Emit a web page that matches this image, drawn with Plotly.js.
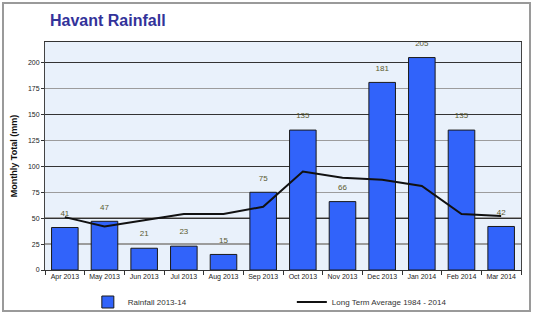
<!DOCTYPE html>
<html><head><meta charset="utf-8">
<script src="https://cdn.plot.ly/plotly-3.0.1.min.js"></script>
<style>
html,body{margin:0;padding:0;background:#fff;}
#chart{width:535px;height:315px;}
#frame{position:absolute;left:2px;top:2px;width:525px;height:306px;border:2px solid #9a9a9a;pointer-events:none;}
</style></head>
<body>
<div id="chart"></div>
<div id="frame"></div>
<script>
const months = ["Apr 2013","May 2013","Jun 2013","Jul 2013","Aug 2013","Sep 2013","Oct 2013","Nov 2013","Dec 2013","Jan 2014","Feb 2014","Mar 2014"];
const rainfall = [41,47,21,23,15,75,135,66,181,205,135,42];
const longTermAvg = [51,42,48,54,54,61,95,89,87,81,54,52];
const yTicks = [0,25,50,75,100,125,150,175,200];
const majorTicks = [50,100,150,200];

const fontFam = "'Liberation Sans', Arial, sans-serif";

const traces = [
  {type:'bar', x:months, y:rainfall, name:'Rainfall 2013-14',
   marker:{color:'#3163fa', line:{color:'#1a1a1a', width:1}},
   width:0.67, yaxis:'y'},
  {type:'scatter', mode:'lines', x:months, y:longTermAvg, name:'Long Term Average 1984 - 2014',
   line:{color:'#111', width:2}, yaxis:'y2'},
  {type:'scatter', mode:'markers+text', x:months, y:rainfall, text:rainfall.map(String),
   textposition:'top center', marker:{size:14, opacity:0}, showlegend:false,
   textfont:{family:fontFam, size:8, color:'#5a5a30'}, cliponaxis:false, yaxis:'y'}
];

const layout = {
  width:535, height:315,
  margin:{l:45, r:14, t:42, b:45},
  paper_bgcolor:'#ffffff', plot_bgcolor:'#e9f1fb',
  hovermode:false,
  showlegend:true,
  title:{text:'Havant Rainfall', x:50/535, xref:'container', xanchor:'left',
         y:1-20/315, yref:'container', yanchor:'middle',
         font:{family:fontFam, size:16, weight:700, color:'#33339a'}},
  xaxis:{type:'category', range:[-0.5, months.length-0.5], tickson:'boundaries', ticks:'outside', ticklen:4, tickcolor:'#333',
         tickangle:0, automargin:false,
         showline:true, linecolor:'#333', linewidth:1, mirror:true, showgrid:false,
         tickfont:{family:fontFam, size:7, color:'#222'}},
  yaxis:{range:[0,220], tickvals:yTicks, ticks:'outside', ticklen:3, tickcolor:'#333',
         automargin:false,
         showline:true, linecolor:'#444', linewidth:1, mirror:true,
         showgrid:true, gridcolor:'#9c9c9c', gridwidth:1.5, zeroline:false,
         tickfont:{family:fontFam, size:7, color:'#222'},
         title:{text:'Monthly Total (mm)', standoff:8, font:{family:fontFam, size:9, weight:700, color:'#111'}}},
  yaxis2:{range:[0,220], overlaying:'y', side:'left', tickvals:majorTicks, showticklabels:false,
          automargin:false,
          showgrid:true, gridcolor:'#333', gridwidth:1, zeroline:false, showline:false, ticks:''},
  legend:{orientation:'h', x:0.09, xanchor:'left', xref:'paper',
          y:1-302/315, yref:'container', yanchor:'middle',
          entrywidth:159, entrywidthmode:'pixels',
          font:{family:fontFam, size:8, color:'#333'}, bgcolor:'rgba(0,0,0,0)'},
  bargap:0.33
};

Plotly.newPlot('chart', traces, layout, {displayModeBar:false, staticPlot:true});
</script>
</body></html>
